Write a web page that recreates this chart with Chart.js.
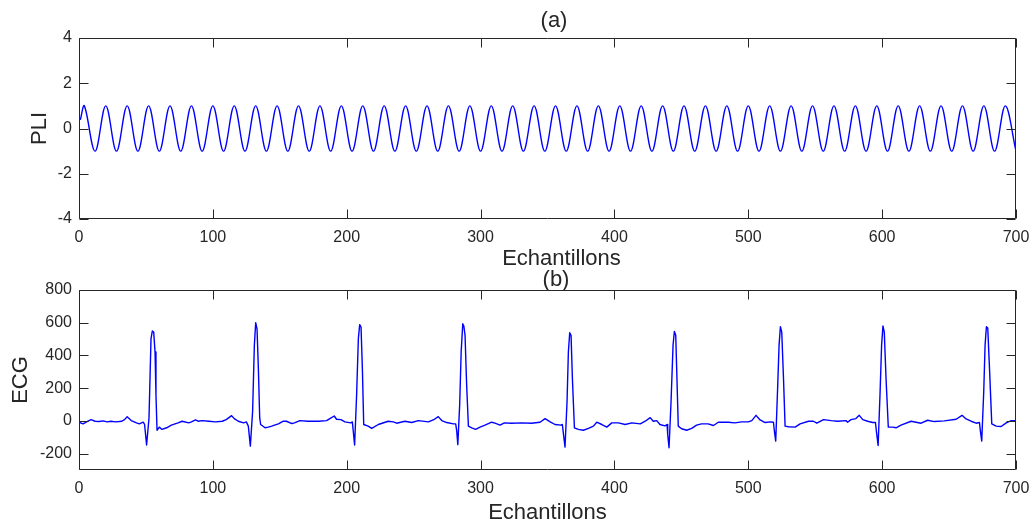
<!DOCTYPE html>
<html>
<head>
<meta charset="utf-8">
<script src="https://cdn.jsdelivr.net/npm/chart.js@4.4.0/dist/chart.umd.min.js"></script>
<style>
  html, body { margin: 0; padding: 0; background: #fff; }
  #wrap { position: relative; width: 1031px; height: 526px; }
  #wrap canvas { position: absolute; left: 0; top: 0; }
</style>
</head>
<body>
<div id="wrap">
  <canvas id="pliChart" width="1031" height="526"></canvas>
  <canvas id="ecgChart" width="1031" height="526"></canvas>
</div>
<script>
const xTicks = [0, 100, 200, 300, 400, 500, 600, 700];
const pliTicks = [-4, -2, 0, 2, 4];
const ecgTicks = [-200, 0, 200, 400, 600, 800];

// PLI: start point, then peaks / troughs
const pliX = [
  1, 4, 12, 20, 28, 36, 44, 52, 60, 68, 76, 84, 92, 100, 108, 116, 124, 132, 140, 148,
  156, 164, 172, 180, 188, 196, 204, 212, 220, 228, 236, 244, 252, 260, 268, 276, 284,
  292, 300, 308, 316, 324, 332, 340, 348, 356, 364, 372, 380, 388, 396, 404, 412, 420,
  428, 436, 444, 452, 460, 468, 476, 484, 492, 500, 508, 516, 524, 532, 540, 548, 556,
  564, 572, 580, 588, 596, 604, 612, 620, 628, 636, 644, 652, 660, 668, 676, 684, 692, 700,
];
const pliY = [
  0.38, 1, -1, 1, -1, 1, -1, 1, -1, 1, -1, 1, -1, 1, -1, 1, -1, 1, -1, 1, -1,
  1, -1, 1, -1, 1, -1, 1, -1, 1, -1, 1, -1, 1, -1, 1, -1, 1, -1, 1, -1,
  1, -1, 1, -1, 1, -1, 1, -1, 1, -1, 1, -1, 1, -1, 1, -1, 1, -1, 1, -1,
  1, -1, 1, -1, 1, -1, 1, -1, 1, -1, 1, -1, 1, -1, 1, -1, 1, -1, 1, -1,
  1, -1, 1, -1, 1, -1, 1, -1,
];

// ECG samples
const ecgX = [
  0, 3, 6, 9, 12, 15, 18, 21, 24, 27, 30, 32, 34, 36, 39, 43, 45, 48, 49, 50.5,
  52.3, 53.8, 54.8, 55.8, 56.8, 57.5, 58.3, 60, 62, 65.5, 69, 74, 77, 82, 84, 87, 89, 92, 97, 102,
  107, 110, 114, 116, 119, 123, 125, 126.5, 128, 129.7, 131, 132, 133, 134, 135, 135.7, 139, 141.4, 144, 146,
  149, 152.6, 155, 159, 161, 165, 171, 179, 185, 187.4, 190.7, 192.4, 195.7, 198.7, 203, 204.2, 204.9, 205.9, 207.4, 208.7,
  209.7, 210.7, 211.7, 212.7, 216, 218.7, 223.6, 231, 234.8, 237.3, 243.5, 248.5, 253.5, 261, 265.5, 268.4, 271, 274.7, 279.7, 281.4,
  282.2, 283, 284.4, 285.5, 286.7, 287.5, 288.4, 289.6, 290.9, 293.4, 296.3, 299.6, 303.3, 308.3, 310.8, 314.5, 317.8, 323, 331, 338,
  344.4, 348.2, 352, 355.6, 360, 361.1, 362.1, 363.1, 364.6, 365.6, 366.6, 367.6, 368.6, 370.1, 373, 376.8, 380.6, 384.3, 386.8, 390.6,
  394.3, 398, 403, 408, 413, 419.3, 423, 426.7, 429, 431.6, 434, 437.8, 439.3, 439.8, 440.8, 442.3, 443.8, 444.8, 445.8, 446.7,
  447.7, 450.2, 454, 457.7, 461.4, 465, 470, 474, 477.6, 485, 490, 495, 500, 502.6, 505.8, 508.8, 512.6, 516.3, 518.8, 519.5,
  520.5, 522, 523, 524, 525, 526.3, 527.5, 530, 535, 538.7, 545, 548.7, 551.2, 556.2, 562, 566.8, 573, 574.2, 576.7, 580.4,
  582.9, 585.5, 589.2, 593, 595, 595.7, 597, 598.4, 599.6, 600.6, 601.6, 602.9, 604.6, 607.9, 610.4, 614.1, 621.6, 625.3, 629.1, 634,
  639, 646.5, 655.3, 659.7, 662.7, 666.5, 670.2, 672.7, 673.4, 674.4, 675.9, 676.9, 677.9, 678.9, 680.2, 681.9, 685.2, 688.9, 692.7, 696.4,
  700,
];
const ecgY = [
  -8, -18, -5, 8, -2, -4, 0, -6, -2, -6, -4, -2, 8, 26, 2, -12, -18, -8, -22, -147,
  18, 503, 550, 543, 422, 160, -57, -38, -52, -42, -26, -12, -2, -12, -6, 6, -2, 2, -2, -6,
  -2, 8, 32, 14, -2, -12, -6, -32, -154, 58, 462, 600, 563, 321, 18, -22, -42, -38, -32, -26,
  -18, -2, -2, -16, -12, 2, -2, -2, 2, 14, 30, 10, 8, -6, -12, -6, -63, -147, 160, 503,
  588, 574, 321, -22, -32, -46, -22, -2, -6, -14, -2, -10, 2, -6, 10, 26, 2, -10, -18, -18,
  -63, -145, 100, 422, 594, 580, 523, 220, -32, -42, -52, -38, -26, -8, -14, -26, -12, -14, -12, -14,
  -8, 14, -6, -22, -26, -22, -93, -160, 119, 422, 539, 523, 261, -42, -52, -57, -46, -32, -8, -22,
  -38, -12, -12, -22, -12, -18, -2, 20, -2, 2, -22, -30, -22, -83, -164, 119, 463, 547, 523, 261,
  -32, -48, -57, -46, -26, -18, -18, -28, -8, -8, -12, -6, -6, 2, 34, 6, -10, -6, -8, -63,
  -123, 220, 463, 576, 543, 261, -32, -36, -38, -18, -2, -2, -14, 8, 2, -2, 2, -8, 8, 14,
  34, 8, -2, -10, -10, -63, -150, 160, 463, 580, 543, 261, -38, -38, -42, -26, -2, -8, -14, 4,
  -4, 0, 10, 34, 12, -2, -14, -10, -63, -123, 180, 463, 576, 568, 321, -18, -32, -34, -12, 2,
  2,
];

const INK = "#262626";
Chart.defaults.font.family = '"Liberation Sans", Arial, sans-serif';
Chart.defaults.color = INK;

// box round the plot area, ticks pointing inwards on all four sides
const matlabAxes = {
  id: "matlabAxes",
  afterDatasetsDraw(chart) {
    const { ctx, chartArea: a, scales } = chart;
    const len = 9;
    const L = Math.round(a.left) + 0.5;
    const R = Math.round(a.right) - 0.5;
    const T = Math.round(a.top) + 0.5;
    const B = Math.round(a.bottom) - 0.5;
    ctx.save();
    ctx.strokeStyle = INK;
    ctx.lineWidth = 1;
    ctx.beginPath();
    ctx.rect(L, T, R - L, B - T);
    scales.x.ticks.forEach((t) => {
      const px = Math.round(scales.x.getPixelForValue(t.value)) + 0.5;
      ctx.moveTo(px, B);
      ctx.lineTo(px, B - len);
      ctx.moveTo(px, T);
      ctx.lineTo(px, T + len);
    });
    scales.y.ticks.forEach((t) => {
      const py = Math.round(scales.y.getPixelForValue(t.value)) + 0.5;
      ctx.moveTo(L, py);
      ctx.lineTo(L + len, py);
      ctx.moveTo(R, py);
      ctx.lineTo(R - len, py);
    });
    ctx.stroke();
    ctx.restore();
  },
};

// free-standing labels ((a), (b) and the shifted xlabel of the top panel)
const panelText = {
  id: "panelText",
  afterDraw(chart, args, opts) {
    const { ctx } = chart;
    ctx.save();
    ctx.fillStyle = INK;
    ctx.font = '22px "Liberation Sans", Arial, sans-serif';
    ctx.textAlign = "center";
    ctx.textBaseline = "alphabetic";
    (opts.items || []).forEach((it) => ctx.fillText(it.text, it.x, it.y));
    ctx.restore();
  },
};

const makePanel = (id, cfg) => {
  const points = cfg.xs.map((x, i) => ({ x, y: cfg.ys[i] }));
  return new Chart(document.getElementById(id), {
    type: "line",
    data: {
      datasets: [
        {
          data: points,
          borderColor: "#0000ff",
          borderWidth: 1.4,
          borderJoinStyle: "round",
          pointRadius: 0,
          tension: cfg.tension,
          fill: false,
        },
      ],
    },
    options: {
      responsive: false,
      animation: false,
      events: [],
      layout: { padding: { left: 0, right: 15, top: cfg.padTop, bottom: cfg.padBottom } },
      plugins: {
        legend: { display: false },
        tooltip: { enabled: false },
        panelText: { items: cfg.texts },
      },
      scales: {
        x: {
          type: "linear",
          min: 0,
          max: 700,
          afterBuildTicks: (s) => {
            s.ticks = xTicks.map((v) => ({ value: v }));
          },
          afterFit: (s) => {
            s.height = cfg.xAxisHeight;
            s.paddingLeft = 0;
            s.paddingRight = 0;
          },
          ticks: { font: { size: 16 }, padding: 8.5, maxRotation: 0, autoSkip: false },
          grid: { display: false, drawTicks: false },
          border: { display: false },
          title: {
            display: cfg.xTitle,
            text: "Echantillons",
            font: { size: 22 },
            padding: { top: 0, bottom: 0 },
          },
        },
        y: {
          type: "linear",
          min: cfg.yMin,
          max: cfg.yMax,
          afterBuildTicks: (s) => {
            s.ticks = cfg.yTicks.map((v) => ({ value: v }));
          },
          afterFit: (s) => {
            s.width = 79;
            s.paddingTop = 0;
            s.paddingBottom = 0;
          },
          ticks: { font: { size: 16 }, padding: 7 },
          grid: { display: false, drawTicks: false },
          border: { display: false },
          title: {
            display: true,
            text: cfg.yLabel,
            font: { size: 22 },
            padding: { top: cfg.yLabelPad, bottom: 0 },
          },
        },
      },
    },
    plugins: [matlabAxes, panelText],
  });
};

makePanel("pliChart", {
  xs: pliX,
  ys: pliY,
  tension: 0.36,
  yMin: -4,
  yMax: 4,
  yTicks: pliTicks,
  yLabel: "PLI",
  yLabelPad: 27,
  padTop: 38,
  xAxisHeight: 30,
  padBottom: 277,
  xTitle: false,
  texts: [
    { text: "(a)", x: 554, y: 27 },
    { text: "Echantillons", x: 561.5, y: 264.5 },
  ],
});

makePanel("ecgChart", {
  xs: ecgX,
  ys: ecgY,
  tension: 0,
  yMin: -300,
  yMax: 800,
  yTicks: ecgTicks,
  yLabel: "ECG",
  yLabelPad: 8,
  padTop: 290,
  xAxisHeight: 56,
  padBottom: 0,
  xTitle: true,
  texts: [{ text: "(b)", x: 556, y: 285.5 }],
});
</script>
</body>
</html>
